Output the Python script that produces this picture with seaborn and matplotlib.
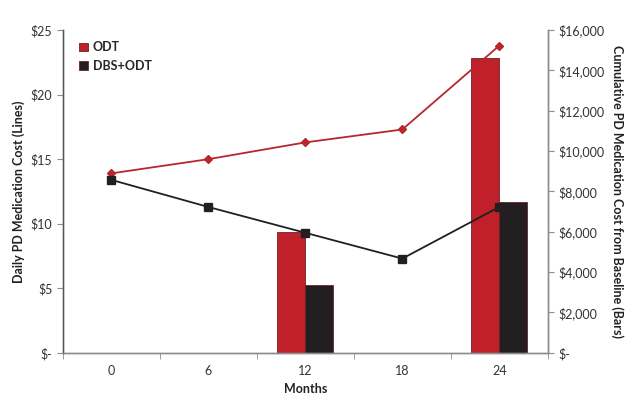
import numpy as np
import pandas as pd
import matplotlib
matplotlib.use("Agg")
import matplotlib.pyplot as plt
import seaborn as sns
from matplotlib.ticker import FuncFormatter

# dados
meses = ["0", "6", "12", "18", "24"]
diario_odt = [13.9, 15.0, 16.3, 17.3, 23.8]
diario_dbs = [13.4, 11.3, 9.3, 7.3, 11.3]
acum_odt = [None, None, 6000, None, 14620]
acum_dbs = [None, None, 3370, None, 7500]

VERMELHO = "#C0202A"
PRETO = "#231F20"
CINZA = "#8C8C8C"

sns.set_style("white")
plt.rcParams["font.family"] = ["Lato", "DejaVu Sans"]

df_linhas = pd.DataFrame({
    "mes": meses * 2,
    "custo": diario_odt + diario_dbs,
    "grupo": ["ODT"] * 5 + ["DBS+ODT"] * 5,
})
df_barras = pd.DataFrame({
    "mes": meses * 2,
    "custo": acum_odt + acum_dbs,
    "grupo": ["ODT"] * 5 + ["DBS+ODT"] * 5,
}).dropna()

fig = plt.figure(figsize=(6.4, 3.96), dpi=100)
ax = fig.add_axes([0.098, 0.109, 0.758, 0.815])
ax2 = ax.twinx()

sns.barplot(
    data=df_barras, x="mes", y="custo", hue="grupo", order=meses,
    hue_order=["ODT", "DBS+ODT"], palette=[VERMELHO, PRETO],
    width=0.58, ax=ax2, saturation=1, edgecolor="#6b2426", linewidth=0.6,
)

sns.pointplot(
    data=df_linhas, x="mes", y="custo", hue="grupo", order=meses,
    hue_order=["ODT", "DBS+ODT"], palette=["#B8262E", PRETO],
    markers=["D", "s"], linestyles=["-", "-"], ax=ax, legend=False,
    linewidth=1.3, markersize=5,
)
# ajuste fino dos marcadores (losango menor, quadrado maior)
for linha in ax.lines:
    if linha.get_marker() == "D":
        linha.set_markersize(4.2)
    elif linha.get_marker() == "s":
        linha.set_markersize(5.6)

# linhas por cima das barras
ax.set_zorder(ax2.get_zorder() + 1)
ax.patch.set_visible(False)

ax.set_xlim(-0.5, 4.5)
ax.set_ylim(0, 25)
ax.set_yticks(range(0, 26, 5))
ax.yaxis.set_major_formatter(FuncFormatter(lambda v, p: "$-" if v == 0 else f"${v:.0f}"))
ax2.set_ylim(0, 16000)
ax2.set_yticks(range(0, 16001, 2000))
ax2.yaxis.set_major_formatter(FuncFormatter(lambda v, p: "$-" if v == 0 else f"${v:,.0f}"))

ax.set_xticks(np.arange(-0.5, 4.6, 1), minor=True)
ax.tick_params(axis="x", which="major", length=0, labelsize=9, colors="#333333", pad=9)
ax.tick_params(axis="x", which="minor", length=4, direction="out", color=CINZA, bottom=True)
ax.tick_params(axis="y", length=4, direction="out", color=CINZA, labelsize=9, labelcolor="#333333", left=True)
ax2.tick_params(axis="y", length=4, direction="out", color=CINZA, labelsize=9, labelcolor="#333333", right=True)

ax.set_xlabel("Months", fontsize=9, fontweight="bold", color="#222222")
ax.set_ylabel("Daily PD Medication Cost (Lines)", fontsize=9, fontweight="bold", color="#222222")
ax2.set_ylabel("Cumulative PD Medication Cost from Baseline (Bars)", fontsize=9,
               fontweight="bold", color="#222222", rotation=270, labelpad=14)

for a in (ax, ax2):
    a.spines["top"].set_visible(False)
    for s in ("left", "right", "bottom"):
        a.spines[s].set_color(CINZA)
        a.spines[s].set_linewidth(1.0)
ax.spines["left"].set_color("#555555")

handles, labels = ax2.get_legend_handles_labels()
ax2.legend(
    handles, labels, loc="upper left", bbox_to_anchor=(0.01, 1.0), frameon=False,
    prop={"weight": "bold", "size": 9}, handlelength=0.7, handleheight=0.7,
    handletextpad=0.4, labelspacing=0.5,
)

fig.savefig("out.png", dpi=100)
